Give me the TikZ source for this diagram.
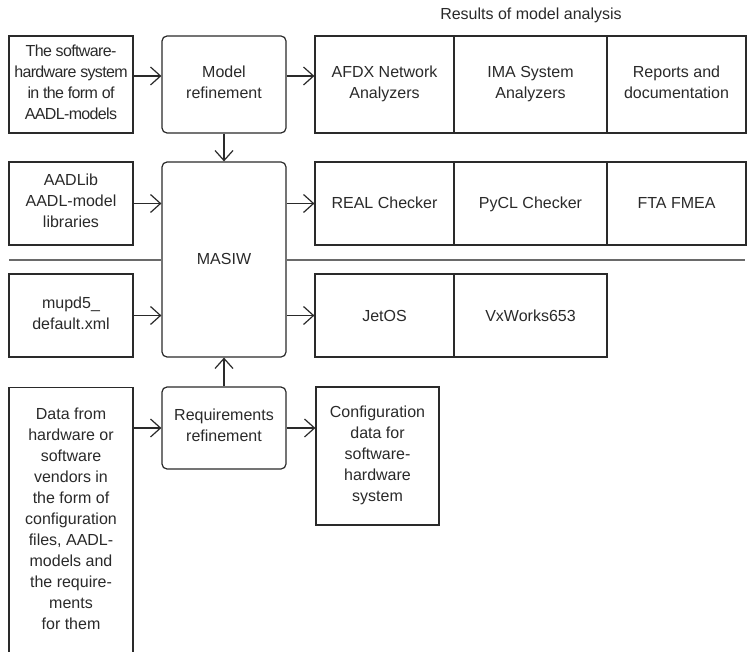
\documentclass[tikz,border=0pt]{standalone}
\usepackage{fontspec}
\setmainfont{Liberation Sans}
\newfontfamily\tightfont[LetterSpace=-4]{Liberation Sans}
\usetikzlibrary{arrows.meta}
\definecolor{ink}{HTML}{2A2A2A}
\definecolor{rule}{HTML}{6A6A6A}
% line strut: keeps every text line the same height and depth
\newcommand\linestrut{\rule[-5pt]{0pt}{21pt}}
\tikzset{
  box/.style={draw=ink, line width=1.2pt, inner sep=0pt, align=center,
    text=ink, font=\fontsize{16}{21}\selectfont,
    execute at begin node=\linestrut, execute at end node=\linestrut},
  rbox/.style={box, rounded corners=5pt},
  txt/.style={inner sep=0pt, align=center, text=ink, font=\fontsize{16}{21}\selectfont},
  arr/.style={draw=ink, line width=1.2pt, -{Straight Barb[length=10pt,width=18pt,line width=1.2pt]}},
  sep/.style={draw=rule, line width=1.3pt}
}
\begin{document}
\begin{tikzpicture}[x=1pt,y=-1pt]
\useasboundingbox (0,0) rectangle (749,652);
\clip (0,0) rectangle (749,652);
\fill[white] (0,0) rectangle (749,652);

% title over the analysis results
\node[txt] (title) at (531,15) {Results of model analysis};

% left column: inputs
\node[box, minimum width=124pt, minimum height=97pt,
      font=\tightfont\fontsize{16}{21}\selectfont] (sw) at (71,84.5)
  {The software-\\hardware system\\in the form of\\AADL-models};
\node[box, minimum width=124pt, minimum height=83pt] (lib) at (71,203.5)
  {AADLib\\AADL-model\\libraries};
\node[box, minimum width=124pt, minimum height=83pt] (mupd) at (71,315.5)
  {mupd5\_\\default.xml};
\node[box, minimum width=124pt, minimum height=290pt, anchor=north] (data) at (71,387) {};
\node[txt] (datatxt) at (71,518.5)
  {Data from\\hardware or\\software\\vendors in\\the form of\\configuration\\files, AADL-\\models and\\the require-\\ments\\for them};

% middle column: processing
\node[rbox, minimum width=124pt, minimum height=97pt] (mr) at (224,84.5)
  {Model\\refinement};
\node[rbox, minimum width=124pt, minimum height=195pt] (masiw) at (224,259.5)
  {MASIW};
\node[rbox, minimum width=124pt, minimum height=82pt] (req) at (224,428)
  {Requirements\\refinement};

% right side: analysis results and targets
\node[box, minimum width=139pt, minimum height=97pt] (afdx) at (384.5,84.5)
  {AFDX Network\\Analyzers};
\node[box, minimum width=153pt, minimum height=97pt] (ima) at (530.5,84.5)
  {IMA System\\Analyzers};
\node[box, minimum width=139pt, minimum height=97pt] (rep) at (676.5,84.5)
  {Reports and\\documentation};

\node[box, minimum width=139pt, minimum height=83pt] (real) at (384.5,203.5)
  {REAL Checker};
\node[box, minimum width=153pt, minimum height=83pt] (pycl) at (530.5,203.5)
  {PyCL Checker};
\node[box, minimum width=139pt, minimum height=83pt] (fta) at (676.5,203.5)
  {FTA FMEA};

\node[box, minimum width=139pt, minimum height=83pt] (jet) at (384.5,315.5)
  {JetOS};
\node[box, minimum width=153pt, minimum height=83pt] (vx) at (530.5,315.5)
  {VxWorks653};

\node[box, minimum width=123pt, minimum height=138pt] (cfg) at (377.5,456)
  {Configuration\\data for\\software-\\hardware\\system};

% separator line
\coordinate (sl) at (9,260);
\coordinate (sr) at (745,260);
\draw[sep] (sl) -- (masiw.west |- sl);
\draw[sep] (masiw.east |- sr) -- (sr);

% connectors
\coordinate (row1) at (0,76);
\draw[arr] (sw.east |- row1) -- (mr.west |- row1);
\draw[arr] (mr.east |- row1) -- (afdx.west |- row1);
\draw[arr] (mr.south) -- (masiw.north);
\draw[arr] (lib.east) -- (masiw.west |- lib.east);
\draw[arr] (masiw.east |- real.west) -- (real.west);
\draw[arr] (mupd.east) -- (masiw.west |- mupd.east);
\draw[arr] (masiw.east |- jet.west) -- (jet.west);
\draw[arr] (req.north) -- (masiw.south);
\draw[arr] (data.east |- req.west) -- (req.west);
\draw[arr] (req.east) -- (cfg.west |- req.east);
\end{tikzpicture}
\end{document}
